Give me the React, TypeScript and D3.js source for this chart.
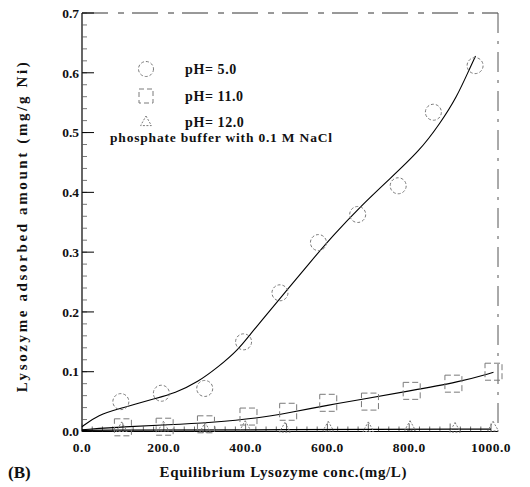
import React from "react";
import * as d3 from "d3";

// ---- data ----
const xTickValues = [0, 200, 400, 600, 800, 1000];
const yTickValues = [0, 0.1, 0.2, 0.3, 0.4, 0.5, 0.6, 0.7];

const ph5X = [95, 194, 300, 395, 484, 578, 674, 773, 859, 961];
const ph5Y = [0.05, 0.064, 0.072, 0.15, 0.232, 0.316, 0.363, 0.411, 0.534, 0.612];

const ph11X = [100, 202, 303, 407, 504, 602, 704, 806, 908, 1006];
const ph11Y = [0.007, 0.008, 0.012, 0.025, 0.033, 0.048, 0.05, 0.068, 0.08, 0.1];

const ph12X = [97, 199, 301, 399, 496, 602, 700, 802, 912, 1005];
const ph12Y = [0.006, 0.007, 0.005, 0.008, 0.005, 0.007, 0.006, 0.008, 0.005, 0.007];

const fit5X = [0, 39, 96, 178, 227, 284, 333, 381, 414, 435, 505, 560, 614, 680, 753, 826, 875, 916, 949, 962];
const fit5Y = [0.008, 0.028, 0.039, 0.055, 0.064, 0.083, 0.108, 0.136, 0.165, 0.182, 0.24, 0.285, 0.328, 0.376, 0.423, 0.47, 0.515, 0.559, 0.609, 0.628];

const fit11X = [0, 104, 210, 316, 430, 509, 602, 684, 794, 924, 1006];
const fit11Y = [0.003, 0.008, 0.011, 0.015, 0.022, 0.032, 0.044, 0.054, 0.067, 0.083, 0.099];

const fit12X = [0, 500, 1000];
const fit12Y = [0.002, 0.003, 0.004];

const legendLabels = ["pH= 5.0", "pH= 11.0", "pH= 12.0"];
const noteText = "phosphate buffer with 0.1 M NaCl";
const xLabel = "Equilibrium Lysozyme conc.(mg/L)";
const yLabel = "Lysozyme adsorbed amount (mg/g Ni)";
const panelLabel = "(B)";

const FONT = "'Liberation Serif', 'DejaVu Serif', 'Times New Roman', serif";
const MARK = "#7a7a7a";

export default function App() {
  const W = 530, H = 487;
  const x = d3.scaleLinear().domain([0, 1017]).range([82, 498]);
  const y = d3.scaleLinear().domain([0, 0.7]).range([431.5, 13]);
  const [x0, x1] = x.range();
  const [yb, yt] = y.range();

  const line = d3
    .line<[number, number]>()
    .x((d) => x(d[0]))
    .y((d) => y(d[1]))
    .curve(d3.curveBasis);

  const zip = (a: number[], b: number[]) => a.map((v, i) => [v, b[i]] as [number, number]);

  const xMinor = d3.range(0, 1001, 25);
  const yMinor = d3.range(0, 0.7001, 0.02);

  const triPath = (cx: number, cy: number, s: number) =>
    `M${cx},${cy - s}L${cx + s * 0.9},${cy + s * 0.6}L${cx - s * 0.9},${cy + s * 0.6}Z`;

  const legendX = 146;
  const legendYs = [69, 96, 122];

  return (
    <svg width={W} height={H} style={{ display: "block", position: "absolute", left: 0, top: 0 }}>
      <rect width={W} height={H} fill="#fff" />
      {/* frame */}
      <line x1={x0} x2={x1} y1={yt} y2={yt} stroke="#333" strokeWidth={1} strokeDasharray="26,10,6,8" />
      <line x1={x1} x2={x1} y1={yt} y2={yb} stroke="#555" strokeWidth={1} strokeDasharray="20,8,3,8" />
      <line x1={x0} x2={x1} y1={yb} y2={yb} stroke="#000" strokeWidth={1.2} />
      <line x1={x0} x2={x0} y1={yt} y2={yb} stroke="#000" strokeWidth={1.2} />

      {/* y ticks */}
      {yMinor.map((v, i) => (
        <line key={"ym" + i} x1={x0} x2={x0 + 5} y1={y(v)} y2={y(v)} stroke="#555" strokeWidth={0.8} />
      ))}
      {yTickValues.map((v) => (
        <g key={"y" + v}>
          <line x1={x0} x2={x0 + 12} y1={y(v)} y2={y(v)} stroke="#000" strokeWidth={1} />
          <text x={x0 - 3} y={y(v)} dy="0.35em" textAnchor="end" fontFamily={FONT} fontWeight="bold" fontSize={13.5} fill="#111">
            {v.toFixed(1)}
          </text>
        </g>
      ))}

      {/* x ticks */}
      {xMinor.map((v, i) => (
        <line key={"xm" + i} x1={x(v)} x2={x(v)} y1={yb} y2={yb - (v % 100 === 0 ? 8 : 5)} stroke="#444" strokeWidth={0.8} />
      ))}
      {xTickValues.map((v) => (
        <text key={"x" + v} x={x(v)} y={452} textAnchor="middle" fontFamily={FONT} fontWeight="bold" fontSize={13.5} letterSpacing={0.5} fill="#111">
          {v.toFixed(1)}
        </text>
      ))}

      {/* fitted curves */}
      <path d={line(zip(fit5X, fit5Y)) || ""} fill="none" stroke="#000" strokeWidth={1.1} />
      <path d={line(zip(fit11X, fit11Y)) || ""} fill="none" stroke="#000" strokeWidth={1.1} />
      <path d={line(zip(fit12X, fit12Y)) || ""} fill="none" stroke="#000" strokeWidth={1.3} />

      {/* markers */}
      {ph5X.map((v, i) => (
        <circle key={"c" + i} cx={x(v)} cy={y(ph5Y[i])} r={8} fill="none" stroke={MARK} strokeWidth={1} strokeDasharray="3,2" />
      ))}
      {ph11X.map((v, i) => (
        <rect key={"s" + i} x={x(v) - 8.5} y={y(ph11Y[i]) - 8.5} width={17} height={17} fill="none" stroke={MARK} strokeWidth={1} strokeDasharray="6,3" />
      ))}
      {ph12X.map((v, i) => (
        <path key={"t" + i} d={triPath(x(v), y(ph12Y[i]), 6)} fill="none" stroke={MARK} strokeWidth={1} strokeDasharray="2,1.5" />
      ))}

      {/* legend */}
      <circle cx={legendX} cy={legendYs[0]} r={7.5} fill="none" stroke={MARK} strokeWidth={1} strokeDasharray="3,2" />
      <rect x={legendX - 7} y={legendYs[1] - 7} width={14} height={14} fill="none" stroke={MARK} strokeWidth={1} strokeDasharray="5,3" />
      <path d={triPath(legendX, legendYs[2], 6)} fill="none" stroke={MARK} strokeWidth={1} strokeDasharray="2,1.5" />
      {legendLabels.map((t, i) => (
        <text key={"l" + i} x={185} y={legendYs[i]} dy="0.35em" fontFamily={FONT} fontWeight="bold" fontSize={14} letterSpacing={0.6} fill="#111">
          {t}
        </text>
      ))}
      <text x={110} y={142} fontFamily={FONT} fontWeight="bold" fontSize={13.5} textLength={222} lengthAdjust="spacing" fill="#111">
        {noteText}
      </text>

      {/* axis titles */}
      <text x={283} y={477} textAnchor="middle" fontFamily={FONT} fontWeight="bold" fontSize={15} textLength={247} lengthAdjust="spacing" fill="#111">
        {xLabel}
      </text>
      <text x={8} y={478} fontFamily={FONT} fontWeight="bold" fontSize={17} fill="#111">
        {panelLabel}
      </text>
      <text
        transform={`translate(27,${(yt + yb) / 2 + 5}) rotate(-90)`}
        textAnchor="middle"
        fontFamily={FONT}
        fontWeight="bold"
        fontSize={15}
        textLength={330}
        lengthAdjust="spacing"
        fill="#111"
      >
        {yLabel}
      </text>
    </svg>
  );
}
